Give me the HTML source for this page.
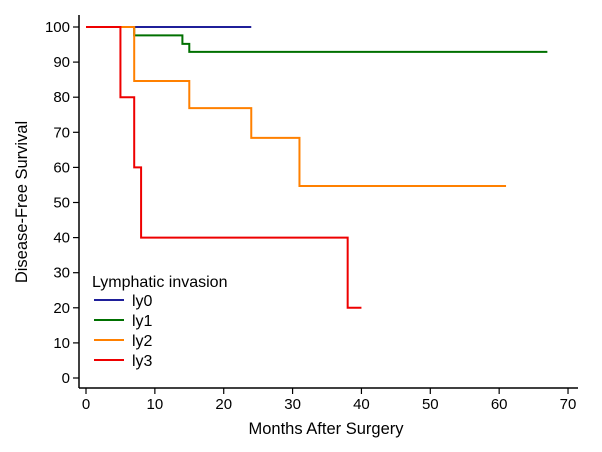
<!DOCTYPE html>
<html><head><meta charset="utf-8"><style>
html,body{margin:0;padding:0;background:#fff;}
svg{display:block;font-family:"Liberation Sans",Arial,sans-serif;}
</style></head><body>
<svg id="chart" width="602" height="452" viewBox="0 0 602 452" xmlns="http://www.w3.org/2000/svg"></svg>
<script>
const xTicks=[0,10,20,30,40,50,60,70];
const yTicks=[0,10,20,30,40,50,60,70,80,90,100];
const seriesNames=["ly0","ly1","ly2","ly3"];
const seriesColors=["#1f1f99","#007000","#ff8000","#ee0000"];
const ly0Times=[0,24];
const ly0Values=[100,100];
const ly1Times=[0,7,14,15,67];
const ly1Values=[100,97.6,95.2,92.9,92.9];
const ly2Times=[0,7,15,24,31,61];
const ly2Values=[100,84.6,76.9,68.4,54.7,54.7];
const ly3Times=[0,5,7,8,38,40];
const ly3Values=[100,80,60,40,20,20];
const allTimes=[ly0Times,ly1Times,ly2Times,ly3Times];
const allValues=[ly0Values,ly1Values,ly2Values,ly3Values];

const NS="http://www.w3.org/2000/svg";
const svg=document.getElementById('chart');
const xS=v=>86+v*6.886;
const yS=v=>378-v*3.51;
function mk(tag,attrs){const e=document.createElementNS(NS,tag);for(const k in attrs)e.setAttribute(k,attrs[k]);svg.appendChild(e);return e;}

let e=mk('line',{x1:79,y1:15,x2:79,y2:388,stroke:'#000','stroke-width':1.5});


e=mk('line',{x1:79,y1:388,x2:578,y2:388,stroke:'#000','stroke-width':1.5});



xTicks.forEach(t=>{
  const x=xS(t);
  let l=mk('line',{x1:x,y1:388,x2:x,y2:394,stroke:'#000','stroke-width':1.2});
  
  
  let tx=mk('text',{x:x,y:409,'text-anchor':'middle','font-size':15,fill:'#000'});
  tx.textContent=t;
  
  
});
yTicks.forEach(t=>{
  const y=yS(t);
  let l=mk('line',{x1:73,y1:y,x2:79,y2:y,stroke:'#000','stroke-width':1.2});
  
  
  let tx=mk('text',{x:70,y:y+5,'text-anchor':'end','font-size':15,fill:'#000'});
  tx.textContent=t;
  
  
});

e=mk('text',{x:326,y:434,'text-anchor':'middle','font-size':16.5,fill:'#000'});
e.textContent='Months After Surgery';


e=mk('text',{x:27,y:202,'text-anchor':'middle','font-size':16.5,fill:'#000',transform:'rotate(-90 27 202)'});
e.textContent='Disease-Free Survival';



allTimes.forEach((ts,i)=>{
  const vs=allValues[i];
  let d='M'+xS(ts[0])+','+yS(vs[0]);
  for(let j=1;j<ts.length;j++){
    d+=' H'+xS(ts[j])+' V'+yS(vs[j]);
  }
  const p=mk('path',{d:d,fill:'none',stroke:seriesColors[i],'stroke-width':2});
  
  
});

e=mk('text',{x:92,y:287,'font-size':16,fill:'#000'});
e.textContent='Lymphatic invasion';


seriesNames.forEach((n,i)=>{
  const y=300+i*20;
  const l=mk('line',{x1:94,y1:y,x2:124,y2:y,stroke:seriesColors[i],'stroke-width':2});
  
  
  const t=mk('text',{x:132,y:y+6,'font-size':16,fill:'#000'});
  t.textContent=n;
  
  
});
</script>
</body></html>
